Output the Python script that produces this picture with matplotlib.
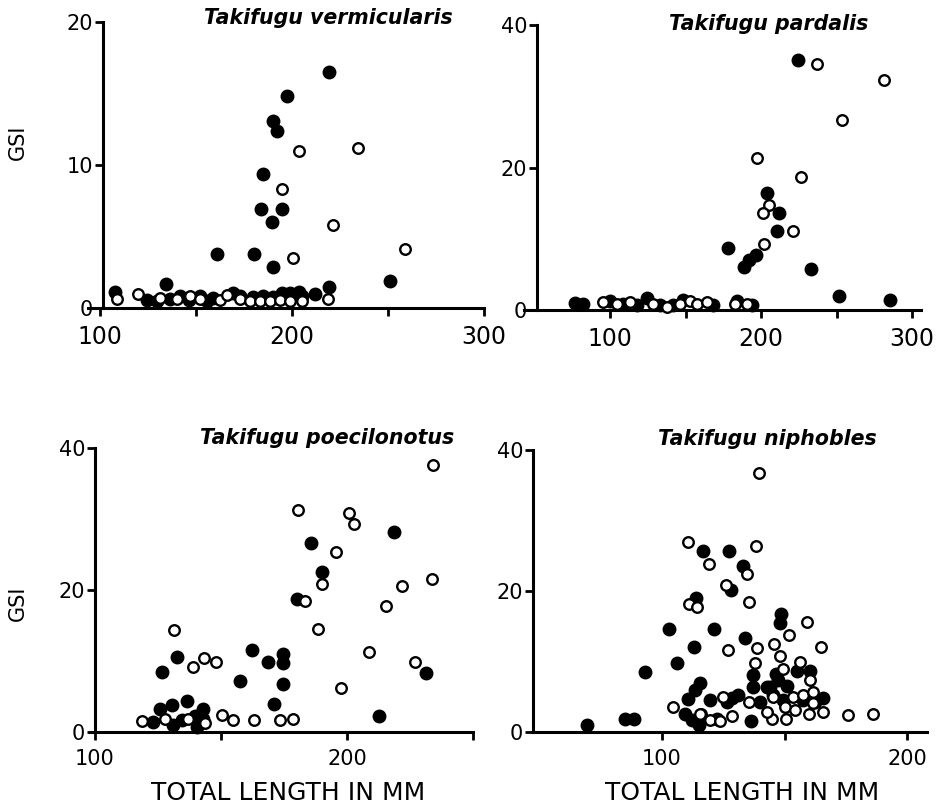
import matplotlib
matplotlib.use("Agg")
import matplotlib.pyplot as plt

# ---------------- data ----------------
titles = ["Takifugu vermicularis", "Takifugu pardalis",
          "Takifugu poecilonotus", "Takifugu niphobles"]

# Takifugu vermicularis
vm_fill_x = [219.3, 197.6, 190, 192.4, 185, 184, 195, 189.6, 160.7, 180.4, 190, 251, 134.4, 107.8,
             219.3, 212, 124.3, 129.5, 136.5, 141.7, 146.1, 152.1, 155.6, 159.1, 169.5, 173, 179.9,
             185.1, 190.3, 194.7, 199, 203.4, 205.1]
vm_fill_y = [16.5, 14.8, 13.1, 12.4, 9.4, 6.9, 6.9, 6.0, 3.8, 3.8, 2.9, 1.9, 1.7, 1.1,
             1.5, 1.0, 0.56, 0.49, 0.63, 0.84, 0.56, 0.84, 0.49, 0.7, 1.07, 0.84, 0.77,
             0.84, 0.77, 1.07, 1.07, 1.15, 0.84]
vm_open_x = [234.4, 203.6, 195, 221.5, 200.4, 258.9, 218.9, 119.9, 108.6, 131.3, 140, 147, 152.1,
             162.5, 166, 173, 178.2, 183.4, 188.6, 193.8, 199, 205.1]
vm_open_y = [11.2, 11.0, 8.3, 5.8, 3.5, 4.1, 0.6, 1.0, 0.6, 0.7, 0.63, 0.84, 0.63,
             0.56, 0.91, 0.63, 0.49, 0.49, 0.49, 0.56, 0.49, 0.49]

# Takifugu pardalis
pa_fill_x = [224.7, 203.8, 212.1, 210.4, 196.7, 192.3, 188.7, 178.4, 232.9, 251.9, 285.4, 76.8,
             82.3, 100, 108.8, 117.7, 124.3, 133.1, 141.9, 148.5, 168.4, 183.9, 193.8]
pa_fill_y = [35.1, 16.4, 13.6, 11.1, 7.7, 7.0, 6.1, 8.7, 5.7, 2.0, 1.4, 0.94,
             0.84, 1.3, 0.84, 0.7, 1.64, 0.7, 0.7, 1.4, 0.7, 1.3, 0.7]
pa_open_x = [237.3, 281.5, 253.9, 197.1, 226.5, 205.5, 201.5, 221, 202.2, 95.6, 104.4, 113.2,
             128.7, 137.5, 146.4, 153, 157.4, 164, 182.8, 190.5]
pa_open_y = [34.5, 32.3, 26.6, 21.4, 18.6, 14.8, 13.6, 11.1, 9.2, 1.17, 0.84, 1.17,
             0.84, 0.47, 0.84, 1.3, 0.84, 1.17, 0.84, 0.84]

# Takifugu poecilonotus
po_fill_x = [185.7, 218.8, 190, 180, 162.2, 174.5, 168.8, 174.7, 157.5, 174.5, 171, 212.8, 231.2,
             126.5, 132.4, 136.4, 130.4, 125.8, 143, 123.1, 131.1, 134.4, 139.7, 140.4, 143]
po_fill_y = [26.6, 28.1, 22.5, 18.8, 11.5, 11.0, 9.8, 9.7, 7.2, 6.7, 4.0, 2.3, 8.3,
             8.4, 10.5, 4.3, 3.8, 3.2, 3.2, 1.45, 1.0, 1.7, 2.2, 0.75, 1.9]
po_open_x = [234.2, 180.7, 200.9, 202.8, 195.6, 190, 221.9, 233.6, 183.3, 215.3, 188.4, 131.3,
             208.9, 227, 197.5, 150.3, 154.9, 163.1, 173.4, 178.4, 118.5, 143.7, 139, 143.4,
             147.9, 127.8, 137]
po_open_y = [37.6, 31.2, 30.9, 29.3, 25.4, 20.9, 20.6, 21.5, 18.5, 17.8, 14.5, 14.3,
             11.3, 9.8, 6.2, 2.4, 1.7, 1.7, 1.7, 1.9, 1.55, 1.3, 9.2, 10.4,
             9.9, 1.9, 1.8]

# Takifugu niphobles
ni_fill_x = [69.5, 84.9, 88.7, 93.1, 103, 106, 113.2, 113.9, 116.9, 121.2, 127.3, 133.2, 128.2,
             133.9, 148.4, 148.2, 136.3, 115.2, 115.5, 113.5, 110.7, 137.3, 137.3, 155, 160.4,
             146.5, 147.5, 144.1, 142.7, 165.8, 131.1, 119.6, 109.4, 112.1, 122.3, 126.4, 140,
             149.5, 157.7, 162.4, 128.5, 145.5, 151]
ni_fill_y = [1.0, 1.8, 1.8, 8.5, 14.6, 9.8, 12.0, 19.0, 25.7, 14.6, 25.7, 23.5, 20.1,
             13.3, 16.7, 15.4, 1.6, 1.0, 7.0, 5.9, 4.7, 8.1, 6.4, 8.6, 8.6,
             8.2, 7.4, 6.4, 6.4, 4.8, 5.2, 4.5, 2.6, 1.7, 1.9, 4.3, 4.3,
             4.5, 4.5, 4.3, 4.8, 5.2, 6.5]
ni_open_x = [139.7, 110.7, 138.4, 119.3, 134.8, 126.1, 111.1, 114.2, 135.6, 159.3, 152, 145.7,
             127.1, 138.7, 164.8, 148.2, 138, 156.3, 149.3, 160.4, 104.6, 176, 186, 115.8,
             124.8, 128.4, 135.6, 144.8, 150.6, 153.3, 157.7, 161.5, 160.1, 165.8, 150.2,
             142.7, 145.4, 154.3, 161.8, 119.6, 123.7, 115.5]
ni_open_y = [36.7, 27.0, 26.4, 23.8, 22.4, 20.9, 18.2, 17.8, 18.4, 15.6, 13.8, 12.5,
             11.7, 11.9, 12.0, 10.8, 9.8, 10.0, 9.0, 7.4, 3.5, 2.4, 2.5, 2.6,
             5.0, 2.2, 4.3, 1.9, 1.9, 4.9, 5.3, 5.7, 2.6, 2.9, 3.6,
             2.9, 5.0, 3.1, 4.1, 1.7, 1.5, 2.6]

# ---------------- layout ----------------
W, H = 941, 809
fig = plt.figure(figsize=(W / 100, H / 100), dpi=100)


def place(a, b, c, d, xlim, ylim):
    left = (a + b * xlim[0]) / W
    width = b * (xlim[1] - xlim[0]) / W
    top_px = c - d * ylim[1]
    bot_px = c - d * ylim[0]
    return [left, 1 - bot_px / H, width, (bot_px - top_px) / H]


panels = [
    dict(cal=(-92, 1.92, 308, 14.3), xlim=(88, 306), ylim=(-1.5, 21.5), lx=101.5, bb=(94, 300),
         ymax=20, xt=[100, 150, 200, 250, 300], xl=["100", "", "200", "", "300"],
         yt=[0, 10, 20], xfs=17,
         fx=vm_fill_x, fy=vm_fill_y, ox=vm_open_x, oy=vm_open_y),
    dict(cal=(459, 1.51, 310, 7.125), xlim=(38, 312), ylim=(-3, 43), lx=51.7, bb=(43, 306),
         ymax=40, xt=[100, 150, 200, 250, 300], xl=["100", "", "200", "", "300"],
         yt=[0, 20, 40], xfs=17,
         fx=pa_fill_x, fy=pa_fill_y, ox=pa_open_x, oy=pa_open_y),
    dict(cal=(-157, 2.52, 732, 7.1), xlim=(94, 254), ylim=(-3, 41), lx=100, bb=(98, 250),
         ymax=40, xt=[100, 150, 200, 250], xl=["100", "", "200", ""],
         yt=[0, 20, 40], xfs=15,
         fx=po_fill_x, fy=po_fill_y, ox=po_open_x, oy=po_open_y),
    dict(cal=(417, 2.45, 732, 7.05), xlim=(40, 212), ylim=(-3, 41), lx=47.3, bb=(47, 208),
         ymax=40, xt=[100, 150, 200], xl=["100", "", "200"],
         yt=[0, 20, 40], xfs=15,
         fx=ni_fill_x, fy=ni_fill_y, ox=ni_open_x, oy=ni_open_y),
]

for p in panels:
    a, b, c, d = p["cal"]
    ax = fig.add_axes(place(a, b, c, d, p["xlim"], p["ylim"]))
    ax.set_xlim(*p["xlim"])
    ax.set_ylim(*p["ylim"])
    ax.patch.set_alpha(0)
    for s in ["top", "right"]:
        ax.spines[s].set_visible(False)
    ax.spines["left"].set_position(("data", p["lx"]))
    ax.spines["left"].set_bounds(0, p["ymax"])
    ax.spines["bottom"].set_position(("data", 0))
    ax.spines["bottom"].set_bounds(*p["bb"])
    for s in ["left", "bottom"]:
        ax.spines[s].set_linewidth(2.2)
        ax.spines[s].set_color("black")
    ax.set_xticks(p["xt"])
    ax.set_xticklabels(p["xl"])
    ax.set_yticks(p["yt"])
    ax.tick_params(axis="both", direction="out", length=6, width=2, color="black")
    ax.tick_params(axis="x", labelsize=p["xfs"], pad=6)
    ax.tick_params(axis="y", labelsize=15, pad=1)
    ax.plot(p["fx"], p["fy"], linestyle="none", marker="o", markersize=9,
            markerfacecolor="black", markeredgecolor="black", clip_on=False, zorder=3)
    ax.plot(p["ox"], p["oy"], linestyle="none", marker="o", markersize=7.6,
            markerfacecolor="white", markeredgecolor="black", markeredgewidth=1.7,
            clip_on=False, zorder=4)

# titles (figure pixel positions)
title_pos = [(328, 18), (769, 24), (327, 438), (767, 439)]
for t, (x, y) in zip(titles, title_pos):
    fig.text(x / W, 1 - y / H, t, ha="center", va="center", fontsize=14.8,
             fontweight="bold", fontstyle="italic")

for y in (142, 603):
    fig.text(18 / W, 1 - y / H, "GSI", rotation=90, ha="center", va="center", fontsize=15)

for x in (288, 742):
    fig.text(x / W, 1 - 793 / H, "TOTAL LENGTH IN MM", ha="center", va="center", fontsize=18)

fig.savefig("out.png", dpi=100)
